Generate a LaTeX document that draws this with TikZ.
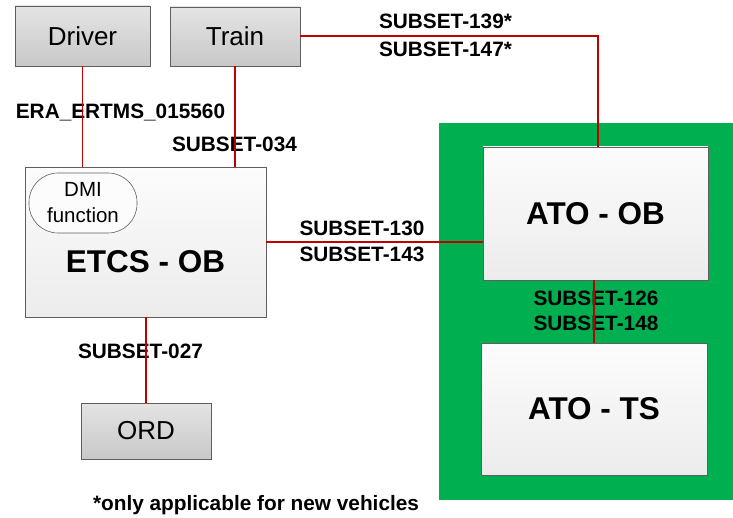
\documentclass[tikz,border=0pt]{standalone}
\usepackage{fontspec}
\setmainfont{Liberation Sans}
\definecolor{linered}{HTML}{C00000}
\definecolor{atogreen}{HTML}{00B050}
\definecolor{boxedge}{HTML}{5F5F5F}
\definecolor{greytop}{HTML}{E4E4E4}
\definecolor{greybot}{HTML}{C8C8C8}
\definecolor{paletop}{HTML}{FCFCFC}
\definecolor{palebot}{HTML}{ECECEC}
\begin{document}
\begin{tikzpicture}[x=1pt,y=-1pt,
  greybox/.style={draw=boxedge,line width=0.8pt,top color=greytop,bottom color=greybot,
    inner sep=0pt,font=\fontsize{26}{30}\selectfont},
  palebox/.style={draw=boxedge,line width=0.8pt,top color=paletop,bottom color=palebot,
    inner sep=0pt,font=\fontsize{31.5}{36}\selectfont\bfseries},
  pill/.style={draw=boxedge,line width=0.6pt,fill=paletop,rounded corners=29pt,inner sep=0pt,
    align=center,font=\fontsize{20.5}{26}\selectfont},
  conn/.style={draw=linered,line width=1.8pt},
  lbl/.style={font=\fontsize{20.8}{27}\selectfont\bfseries,inner sep=0pt,align=center}]
\useasboundingbox (0,0) rectangle (733,518);
% green ATO area
\fill[atogreen] (439,123) rectangle (733,500);
% boxes
\node[greybox,minimum width=135pt,minimum height=60pt] (driver) at (82.5,36) {Driver};
\node[greybox,minimum width=130pt,minimum height=59pt] (train) at (235,36.5) {Train};
\node[palebox,minimum width=241pt,minimum height=150pt] (etcs) at (145.5,242) {};
\node[font=\fontsize{31.5}{36}\selectfont\bfseries,inner sep=0pt] (etcstxt) at (145.5,262) {ETCS - OB};
\node[pill,minimum width=108pt,minimum height=60pt] (dmi) at (83,203) {DMI\\function};
\node[greybox,minimum width=130pt,minimum height=56pt] (ord) at (146,431) {ORD};
\node[palebox,minimum width=225pt,minimum height=133pt] (atoob) at (595.5,213.5) {ATO - OB};
\node[palebox,minimum width=226pt,minimum height=132pt] (atots) at (594,409) {ATO - TS};
% labels
\node[lbl] (l1) at (120.5,112.5) {ERA\_ERTMS\_015560};
\node[lbl] (l2) at (234.5,144) {SUBSET-034};
\node[lbl] (l3) at (445.5,21.5) {SUBSET-139*};
\node[lbl] (l4) at (445.5,49) {SUBSET-147*};
\node[lbl] (l5) at (362,228) {SUBSET-130};
\node[lbl] (l6) at (362,254.5) {SUBSET-143};
\node[lbl] (l7) at (596,298.5) {SUBSET-126};
\node[lbl] (l8) at (596,323.5) {SUBSET-148};
\node[lbl] (l9) at (140.5,351.5) {SUBSET-027};
\node[lbl,anchor=base] (fn) at (256,510) {*only applicable for new vehicles};
% connectors
\coordinate (bend) at (598,36);
\draw[conn] (driver.south) -- (driver.south |- etcs.north);
\draw[conn] (train.south) -- (train.south |- etcs.north);
\draw[conn] (etcs.south -| ord.north) -- (ord.north);
\draw[conn] (etcs.east) -- (etcs.east -| atoob.west);
\draw[conn] (atoob.south -| atots.north) -- (atots.north);
\draw[conn] (train.east |- bend) -- (bend) -- (bend |- atoob.north);
\end{tikzpicture}
\end{document}
